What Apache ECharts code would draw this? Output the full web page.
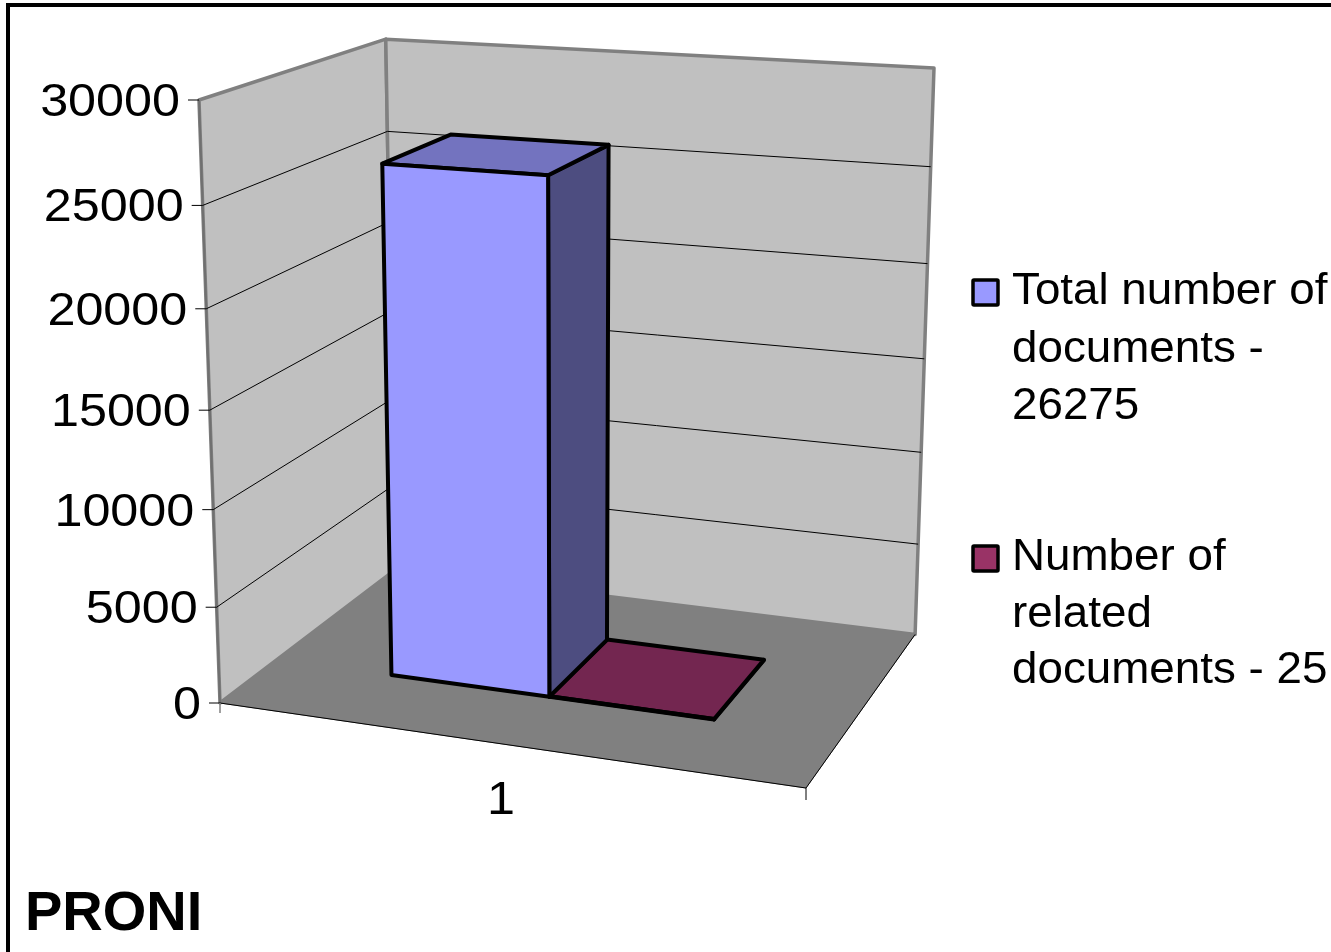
<!DOCTYPE html>
<html>
<head>
<meta charset="utf-8">
<style>html,body{margin:0;padding:0;background:#fff}#chart{width:1331px;height:952px}</style>
<script src="https://cdn.jsdelivr.net/npm/echarts@6/dist/echarts.min.js"></script>
</head>
<body>
<div id="chart"></div>
<script>
// Chart data
const categories = ['1'];
const totalDocuments = [26275];
const relatedDocuments = [25];
const valueTicks = [0, 5000, 10000, 15000, 20000, 25000, 30000];
const chartTitle = 'PRONI';
const totalName = ['Total number of', 'documents -', '26275'];
const relatedName = ['Number of', 'related', 'documents - 25'];

// Screen anchors of the 3D box: front-left-bottom, front-right-bottom,
// front-left-top, back-left-bottom, back-right-top.
const O = [220, 703], X = [806, 788], Y = [199, 100], Z = [395, 570], D = [934, 68];
const V_WEIGHT = 0.944; // foreshortening along the vertical axis

function det3(a, b, c) {
  return a[0] * (b[1] * c[2] - b[2] * c[1]) - b[0] * (a[1] * c[2] - a[2] * c[1]) + c[0] * (a[1] * b[2] - a[2] * b[1]);
}
const h = p => [p[0], p[1], 1];
const rhs = h(O).map((o, i) => 2 * o - V_WEIGHT * h(Y)[i]);
const neg = h(D).map(n => -n);
const dn = det3(h(X), h(Z), neg);
const a = det3(rhs, h(Z), neg) / dn;
const c = det3(h(X), rhs, neg) / dn;
const c4 = h(O);
const c1 = h(X).map((n, i) => a * n - c4[i]);
const c2 = h(Y).map((n, i) => V_WEIGHT * n - c4[i]);
const c3 = h(Z).map((n, i) => c * n - c4[i]);

// Perspective projection of (u across, v up, w into the page), each in 0..1.
function project(u, v, w) {
  const p = [0, 1, 2].map(i => c1[i] * u + c2[i] * v + c3[i] * w + c4[i]);
  return [p[0] / p[2], p[1] / p[2]];
}

// Bars occupy these fractions of the category width and of the floor depth.
const BAR_START = 0.214, BAR_WIDTH = 0.286, DEPTH_FROM = 0.3, DEPTH_TO = 0.7;
const FONT = '"Liberation Sans", Arial, sans-serif';
const GRID = { left: 220, top: 100, width: 586, height: 603 };

function poly(points, fill, stroke, lineWidth) {
  return {
    type: 'polygon',
    shape: { points },
    style: { fill, stroke, lineWidth, lineJoin: 'round' }
  };
}
function line(a, b, stroke, lineWidth) {
  return {
    type: 'line',
    shape: { x1: a[0], y1: a[1], x2: b[0], y2: b[1] },
    style: { stroke, lineWidth, lineCap: 'butt' }
  };
}
function label(text, x, y, size, align, scaleX) {
  return {
    type: 'text', x, y: y + 3, scaleX,
    style: { text, font: size + 'px ' + FONT, fill: '#000', align, verticalAlign: 'middle' }
  };
}

// Walls, floor, gridlines, ticks and axis labels of the box.
function renderBox(params, api) {
  const cs = params.coordSys;
  const level = t => (cs.y + cs.height - api.coord([0, t])[1]) / cs.height;
  const kids = [];
  kids.push(poly([project(0, 0, 0), project(0, 1, 0), project(0, 1, 1), project(0, 0, 1)], '#c0c0c0', '#808080', 3.5));
  kids.push(poly([project(0, 0, 1), project(0, 1, 1), project(1, 1, 1), project(1, 0, 1)], '#c0c0c0', '#808080', 3.5));
  kids.push(poly([project(0, 0, 0), project(1, 0, 0), project(1, 0, 1), project(0, 0, 1)], '#808080', '#808080', 1));
  kids.push(line(project(0, 0, 0), project(0, 1, 0), '#707070', 2));
  valueTicks.forEach(t => {
    const v = level(t);
    const a0 = project(0, v, 0);
    if (t > 0 && t < valueTicks[valueTicks.length - 1]) {
      kids.push(line(a0, project(0, v, 1), '#000', 1));
      kids.push(line(project(0, v, 1), project(1, v, 1), '#000', 1));
    }
    kids.push(line([a0[0] - 11, a0[1]], a0, '#000', 1));
    kids.push(label(String(t), a0[0] - 19, a0[1], 47, 'right', 1.07));
  });
  const fl = project(0, 0, 0), fr = project(1, 0, 0), br = project(1, 0, 1);
  kids.push(line(fl, fr, '#000', 1));
  kids.push(line(fr, br, '#000', 1));
  kids.push(line(fl, [fl[0], fl[1] + 10], '#808080', 1.5));
  kids.push(line(fr, [fr[0], fr[1] + 12], '#000', 1));
  kids.push(label(categories[0], 501, 798, 47, 'center', 1.07));
  return { type: 'group', children: kids };
}

// One bar as front, top and side faces, placed with the axis scales.
function renderBar(slot, front, top, side) {
  return function (params, api) {
    const cs = params.coordSys;
    const idx = api.value(0);
    const head = api.coord([idx, api.value(1)]);
    const foot = api.coord([idx, 0]);
    const band = api.size([1, 0])[0];
    const left = head[0] - band / 2 - cs.x;
    const u0 = (left + band * (BAR_START + slot * BAR_WIDTH)) / cs.width;
    const u1 = u0 + band * BAR_WIDTH / cs.width;
    const vt = (cs.y + cs.height - head[1]) / cs.height;
    const vb = (cs.y + cs.height - foot[1]) / cs.height;
    const w0 = DEPTH_FROM, w1 = DEPTH_TO;
    const border = '#000', bw = 4;
    return {
      type: 'group',
      children: [
        poly([project(u1, vb, w0), project(u1, vt, w0), project(u1, vt, w1), project(u1, vb, w1)], side, border, bw),
        poly([project(u0, vt, w0), project(u1, vt, w0), project(u1, vt, w1), project(u0, vt, w1)], top, border, bw),
        poly([project(u0, vb, w0), project(u0, vt, w0), project(u1, vt, w0), project(u1, vb, w0)], front, border, bw)
      ]
    };
  };
}

// Legend block: swatch next to the first of three text lines.
function legendBlock(lines, color, swatchY, firstY, step) {
  const items = [{
    type: 'rect',
    shape: { x: 973, y: swatchY - 13, width: 25, height: 25, r: 1 },
    style: { fill: color, stroke: '#000', lineWidth: 3.5 }
  }];
  lines.forEach((t, i) => items.push({
    type: 'text', x: 1012, y: firstY + i * step, scaleX: 1.04,
    style: { text: t, font: '44px ' + FONT, fill: '#000', align: 'left', verticalAlign: 'middle' }
  }));
  return items;
}

const chart = echarts.init(document.getElementById('chart'), null, { renderer: 'canvas' });
chart.setOption({
  animation: false,
  backgroundColor: '#fff',
  title: {
    text: chartTitle, left: 20, top: 882,
    textStyle: { fontFamily: FONT, fontSize: 56, fontWeight: 'bold', color: '#000' }
  },
  grid: GRID,
  xAxis: { type: 'category', data: categories, show: false },
  yAxis: { type: 'value', min: 0, max: 30000, interval: 5000, show: false },
  graphic: [
    {
      type: 'rect', silent: true, z: 0,
      shape: { x: 8, y: 5, width: 1340, height: 970 },
      style: { fill: 'transparent', stroke: '#000', lineWidth: 4 }
    },
    ...legendBlock(totalName, '#9999ff', 293, 292, 57.5),
    ...legendBlock(relatedName, '#993366', 559, 558, 56.5)
  ],
  series: [
    { type: 'custom', name: 'box', silent: true, z: 1, renderItem: renderBox, data: [[0, 0]] },
    {
      type: 'custom', name: totalName.join(' '), z: 3,
      renderItem: renderBar(0, '#9999ff', '#7373bf', '#4d4d80'),
      data: totalDocuments.map((n, i) => [i, n])
    },
    {
      type: 'custom', name: relatedName.join(' '), z: 2,
      renderItem: renderBar(1, '#993366', '#732650', '#4d1a33'),
      data: relatedDocuments.map((n, i) => [i, n])
    }
  ]
});
</script>
</body>
</html>
